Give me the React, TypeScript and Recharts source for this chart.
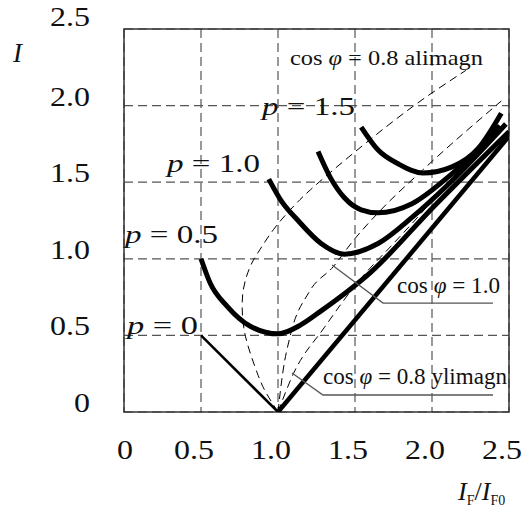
import React from 'react'
import { LineChart, Line, XAxis, YAxis, CartesianGrid, ReferenceArea } from 'recharts'

const FONT = '"Liberation Serif", "Times New Roman", serif'

const TICKS = [0, 0.5, 1.0, 1.5, 2.0, 2.5]
const TICK_LABELS = ['0', '0.5', '1.0', '1.5', '2.0', '2.5']

// V-curves, [I_F/I_F0, I]
const P0_LEFT = [[0.5, 0.5], [1.0, 0]]
const P0_RIGHT = [[1.0, 0], [2.5, 1.8]]
const P05 = [[0.5, 1.0], [0.56, 0.84], [0.67, 0.69], [0.82, 0.56], [1.0, 0.51], [1.15, 0.57], [1.28, 0.66], [1.6, 0.91], [2.02, 1.35], [2.5, 1.83]]
const P10 = [[0.94, 1.52], [1.02, 1.38], [1.13, 1.25], [1.28, 1.1], [1.43, 1.03], [1.65, 1.1], [1.87, 1.27], [2.1, 1.48], [2.48, 1.88]]
const P125 = [[1.26, 1.7], [1.34, 1.53], [1.43, 1.4], [1.54, 1.32], [1.65, 1.3], [1.87, 1.36], [2.1, 1.53], [2.3, 1.71], [2.44, 1.87]]
const P15 = [[1.54, 1.86], [1.65, 1.71], [1.78, 1.62], [1.94, 1.56], [2.13, 1.6], [2.3, 1.72], [2.45, 1.95]]

// power factor loci (dashed)
const COS08_UNDER = [[1.0, 0], [0.92, 0.13], [0.865, 0.255], [0.8, 0.45], [0.77, 0.62], [0.775, 0.8], [0.82, 0.95], [0.87, 1.04], [0.97, 1.19], [1.08, 1.32], [1.21, 1.45], [1.49, 1.69], [1.87, 1.99], [2.22, 2.23]]
const COS10 = [[1.0, 0], [1.03, 0.25], [1.08, 0.5], [1.2, 0.78], [1.36, 0.95], [1.49, 1.12], [1.65, 1.3], [1.94, 1.58], [2.45, 2.03]]
const COS08_OVER = [[1.0, 0], [1.1, 0.25], [1.3, 0.55], [1.52, 0.85], [1.75, 1.1], [1.87, 1.23], [2.15, 1.55], [2.4, 1.82]]

// leader lines for the labels
const LEADER_COS10 = [[1.351, 0.96], [1.682, 0.711], [2.396, 0.711]]
const LEADER_COS08 = [[1.091, 0.255], [1.292, 0.111], [2.396, 0.111]]

const pts = (a: number[][]) => a.map(([x, y]) => ({ x, y }))

const common = { dataKey: 'y', dot: false, activeDot: false, isAnimationActive: false, legendType: 'none' as const }

function XTick(props: any) {
  const { x, payload } = props
  const i = TICKS.indexOf(payload.value)
  const label = TICK_LABELS[i] ?? String(payload.value)
  const one = label.length === 1
  return (
    <text x={one ? x + 1 : x - 7} y={459} textAnchor="middle" fontSize={27} fontFamily={FONT} fill="#111"
      textLength={one ? 16 : 40} lengthAdjust="spacingAndGlyphs">
      {label}
    </text>
  )
}

function YTick(props: any) {
  const { y, payload } = props
  const i = TICKS.indexOf(payload.value)
  const label = TICK_LABELS[i] ?? String(payload.value)
  const one = label.length === 1
  return (
    <text x={90} y={payload.value === 2.5 ? y - 3 : y} textAnchor="end" fontSize={27} fontFamily={FONT} fill="#111"
      textLength={one ? 16 : 40} lengthAdjust="spacingAndGlyphs">
      {label}
    </text>
  )
}

function PLabel({ x, y, value, w }: { x: number; y: number; value: string; w: number }) {
  return (
    <text x={x} y={y} fontSize={26} fontFamily={FONT} fill="#111" textLength={w} lengthAdjust="spacingAndGlyphs">
      <tspan fontStyle="italic">p</tspan> = {value}
    </text>
  )
}

function CosLabel({ x, y, rest, w, size }: { x: number; y: number; rest: string; w: number; size: number }) {
  return (
    <text x={x} y={y} fontSize={size} fontFamily={FONT} fill="#111" textLength={w} lengthAdjust="spacingAndGlyphs">
      cos<tspan fontStyle="italic"> φ</tspan> = {rest}
    </text>
  )
}

export default function App() {
  return (
    <div style={{ position: 'absolute', left: 0, top: 0, width: 525, height: 510, background: '#fff' }}>
      <LineChart width={525} height={510} margin={{ top: 29, right: 16, bottom: 0, left: 0 }}>
        <CartesianGrid stroke="#555" strokeDasharray="9 5" strokeWidth={1.2} />
        <XAxis type="number" dataKey="x" domain={[0, 2.5]} ticks={TICKS} interval={0} height={98}
          axisLine={false} tickLine={false} tick={(p: any) => <XTick {...p} />} allowDataOverflow />
        <YAxis type="number" domain={[0, 2.5]} ticks={TICKS} interval={0} width={124}
          axisLine={false} tickLine={false} tick={(p: any) => <YTick {...p} />} allowDataOverflow />
        <ReferenceArea x1={0} x2={2.5} y1={0} y2={2.5} fill="none" fillOpacity={0} stroke="#333" strokeWidth={1.5} ifOverflow="visible" />

        <Line {...common} data={pts(COS08_UNDER)} type="natural" stroke="#000" strokeWidth={1} strokeDasharray="8 5" />
        <Line {...common} data={pts(COS10)} type="monotone" stroke="#000" strokeWidth={1} strokeDasharray="8 5" />
        <Line {...common} data={pts(COS08_OVER)} type="monotone" stroke="#000" strokeWidth={1} strokeDasharray="8 5" />

        <Line {...common} data={pts(P0_LEFT)} type="linear" stroke="#000" strokeWidth={2.5} />
        <Line {...common} data={pts(P0_RIGHT)} type="linear" stroke="#000" strokeWidth={4.5} />
        <Line {...common} data={pts(P05)} type="monotone" stroke="#000" strokeWidth={5} />
        <Line {...common} data={pts(P10)} type="monotone" stroke="#000" strokeWidth={5} />
        <Line {...common} data={pts(P125)} type="monotone" stroke="#000" strokeWidth={5} />
        <Line {...common} data={pts(P15)} type="monotone" stroke="#000" strokeWidth={5} />

        <Line {...common} data={pts(LEADER_COS10)} type="linear" stroke="#555" strokeWidth={1.3} />
        <Line {...common} data={pts(LEADER_COS08)} type="linear" stroke="#555" strokeWidth={1.3} />
      </LineChart>

      <svg width={525} height={510} style={{ position: 'absolute', left: 0, top: 0, pointerEvents: 'none' }}>
        <text x={13} y={62} fontSize={27} fontFamily={FONT} fontStyle="italic" fill="#111">I</text>
        <text x={458} y={500} fontSize={26} fontFamily={FONT} fill="#111">
          <tspan fontStyle="italic">I</tspan>
          <tspan fontSize={14} dy={5}>F</tspan>
          <tspan dy={-5}>/</tspan>
          <tspan fontStyle="italic">I</tspan>
          <tspan fontSize={14} dy={5}>F0</tspan>
        </text>

        <PLabel x={262} y={115} value="1.5" w={93} />
        <PLabel x={167} y={172} value="1.0" w={93} />
        <PLabel x={125} y={243} value="0.5" w={93} />
        <PLabel x={127} y={334} value="0" w={71} />

        <CosLabel x={290} y={65} rest="0.8 alimagn" w={193} size={22} />
        <CosLabel x={397} y={293} rest="1.0" w={103} size={24} />
        <CosLabel x={323} y={384} rest="0.8 ylimagn" w={184} size={24} />
      </svg>
    </div>
  )
}
